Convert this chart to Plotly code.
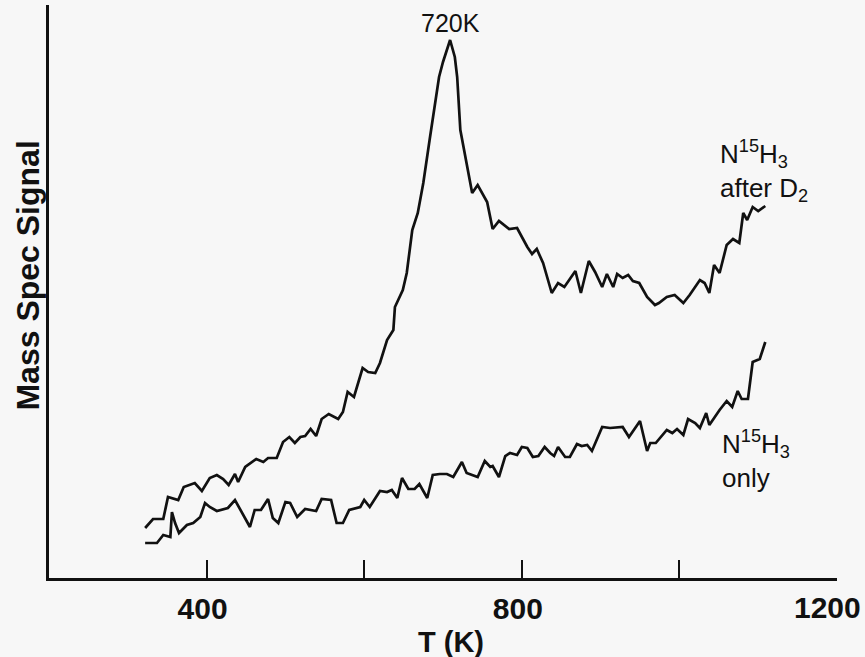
import plotly.graph_objects as go

# Temperature (K) and mass-spec signal (arbitrary units)
t_after_d2 = [322, 332, 345, 351, 364, 371, 385, 394, 404, 413, 421, 428, 436, 440, 449, 463, 472, 478, 489,
              497, 505, 512, 519, 525, 532, 539, 546, 555, 567, 573, 579, 587, 598, 605, 614, 620, 629, 637,
              639, 649, 654, 661, 668, 675, 683, 690, 695, 700, 709, 715, 718, 722, 732, 737, 744, 756, 763,
              771, 784, 794, 807, 813, 819, 827, 838, 846, 854, 868, 875, 885, 893, 902, 908, 916, 921, 928,
              935, 941, 949, 959, 969, 974, 984, 994, 1005, 1013, 1026, 1032, 1038, 1044, 1051, 1060, 1068,
              1076, 1081, 1086, 1093, 1100, 1109]
s_after_d2 = [50, 59, 59, 81, 78, 91, 95, 87, 100, 103, 99, 93, 104, 96, 111, 119, 116, 120, 120,
              136, 141, 135, 141, 142, 149, 142, 159, 164, 159, 166, 186, 181, 210, 206, 205, 215, 238, 248,
              271, 288, 305, 348, 365, 395, 438, 475, 501, 516, 538, 521, 501, 448, 408, 385, 393, 376, 349,
              357, 349, 350, 331, 324, 329, 315, 285, 295, 291, 307, 285, 317, 306, 291, 304, 291, 304, 300,
              303, 297, 295, 281, 273, 275, 281, 283, 275, 283, 298, 295, 285, 313, 305, 333, 339,
              335, 365, 358, 371, 367, 372]

t_only = [322, 337, 345, 354, 356, 360, 365, 375, 383, 392, 398, 404, 413, 427, 436, 445, 455, 461, 469,
          478, 484, 491, 500, 506, 515, 525, 539, 546, 558, 565, 573, 581, 595, 600, 607, 620, 629, 635,
          642, 648, 656, 664, 670, 680, 687, 696, 705, 713, 724, 730, 744, 753, 760, 763, 771, 779, 785,
          794, 800, 807, 814, 821, 829, 836, 841, 846, 855, 861, 870, 876, 883, 889, 902, 912, 928, 936,
          950, 959, 963, 970, 984, 991, 997, 1005, 1011, 1020, 1026, 1034, 1038, 1051, 1060, 1067, 1074,
          1079, 1087, 1093, 1102, 1109]
s_only = [35, 35, 43, 41, 66, 55, 45, 53, 55, 61, 75, 71, 67, 70, 78, 65, 51, 68, 68,
          79, 60, 55, 76, 75, 61, 69, 67, 79, 78, 55, 55, 68, 71, 78, 71, 87, 86, 88,
          80, 100, 89, 89, 94, 80, 103, 104, 104, 101, 116, 105, 101, 117, 111, 112, 101, 122, 125,
          123, 131, 130, 121, 122, 131, 125, 122, 131, 121, 121, 134, 132, 133, 127, 151, 150, 151, 141,
          157, 127, 135, 135, 148, 145, 149, 143, 159, 155, 150, 165, 153, 168, 177, 171, 187,
          179, 179, 216, 219, 236]

x_tickvals = [400, 600, 800, 1000, 1200]
x_ticktext = ["400", "", "800", "", "1200"]

FONT = "Liberation Sans"
BG = "#f7f7f7"
INK = "#111111"
LINE = dict(color=INK, width=2.7)

fig = go.Figure()
fig.add_trace(go.Scatter(x=t_after_d2, y=s_after_d2, mode="lines", line=LINE, showlegend=False,
                         hoverinfo="skip"))
fig.add_trace(go.Scatter(x=t_only, y=s_only, mode="lines", line=LINE, showlegend=False,
                         hoverinfo="skip"))

# the last tick label sits slightly left of its tick (it would overflow the page otherwise)
shown_text = [t if v != x_tickvals[-1] else "" for v, t in zip(x_tickvals, x_ticktext)]

fig.update_layout(
    template="none",
    width=865, height=657,
    margin=dict(l=49, r=28, t=5, b=79),
    paper_bgcolor=BG, plot_bgcolor=BG,
    font=dict(family=FONT, color=INK),
    xaxis=dict(
        range=[200, 1200], showgrid=False, zeroline=False,
        showline=True, linecolor=INK, linewidth=2.5,
        tickmode="array", tickvals=x_tickvals, ticktext=shown_text,
        ticks="inside", ticklen=18, tickwidth=2, tickcolor=INK,
        tickfont=dict(size=30, family=FONT, weight=700, color=INK),
        ticklabelstandoff=2, ticklabelshift=-4,
    ),
    yaxis=dict(
        range=[0, 573], showgrid=False, zeroline=False,
        showline=True, linecolor=INK, linewidth=2.5,
        showticklabels=False, ticks="",
    ),
    annotations=[
        dict(text=x_ticktext[-1], x=x_tickvals[-1], xref="x", yref="paper", y=0, yanchor="top",
             xshift=-10, yshift=-11, showarrow=False, font=dict(size=30, weight=700)),
        dict(text="T (K)", xref="paper", yref="paper", x=0.51, y=-0.08, yanchor="top",
             showarrow=False, font=dict(size=29, weight=700)),
        dict(text="Mass Spec Signal", xref="paper", yref="paper", x=-0.026, y=0.527, xanchor="center",
             yanchor="middle", textangle=-90, showarrow=False, font=dict(size=32, weight=700)),
        dict(text="720K", x=709, y=555, xref="x", yref="y", showarrow=False,
             font=dict(size=25), yanchor="middle"),
        dict(text="N<sup>15</sup>H<sub>3</sub>", x=1049, y=424, xref="x", yref="y", showarrow=False,
             xanchor="left", yanchor="middle", font=dict(size=26)),
        dict(text="after D<sub>2</sub>", x=1049, y=389, xref="x", yref="y", showarrow=False,
             xanchor="left", yanchor="middle", font=dict(size=26)),
        dict(text="N<sup>15</sup>H<sub>3</sub>", x=1051, y=134, xref="x", yref="y", showarrow=False,
             xanchor="left", yanchor="middle", font=dict(size=26)),
        dict(text="only", x=1051, y=100, xref="x", yref="y", showarrow=False,
             xanchor="left", yanchor="middle", font=dict(size=26)),
    ],
)

fig.write_html("out.html", config={"displayModeBar": False},
               post_script="document.body.style.margin='0';")
